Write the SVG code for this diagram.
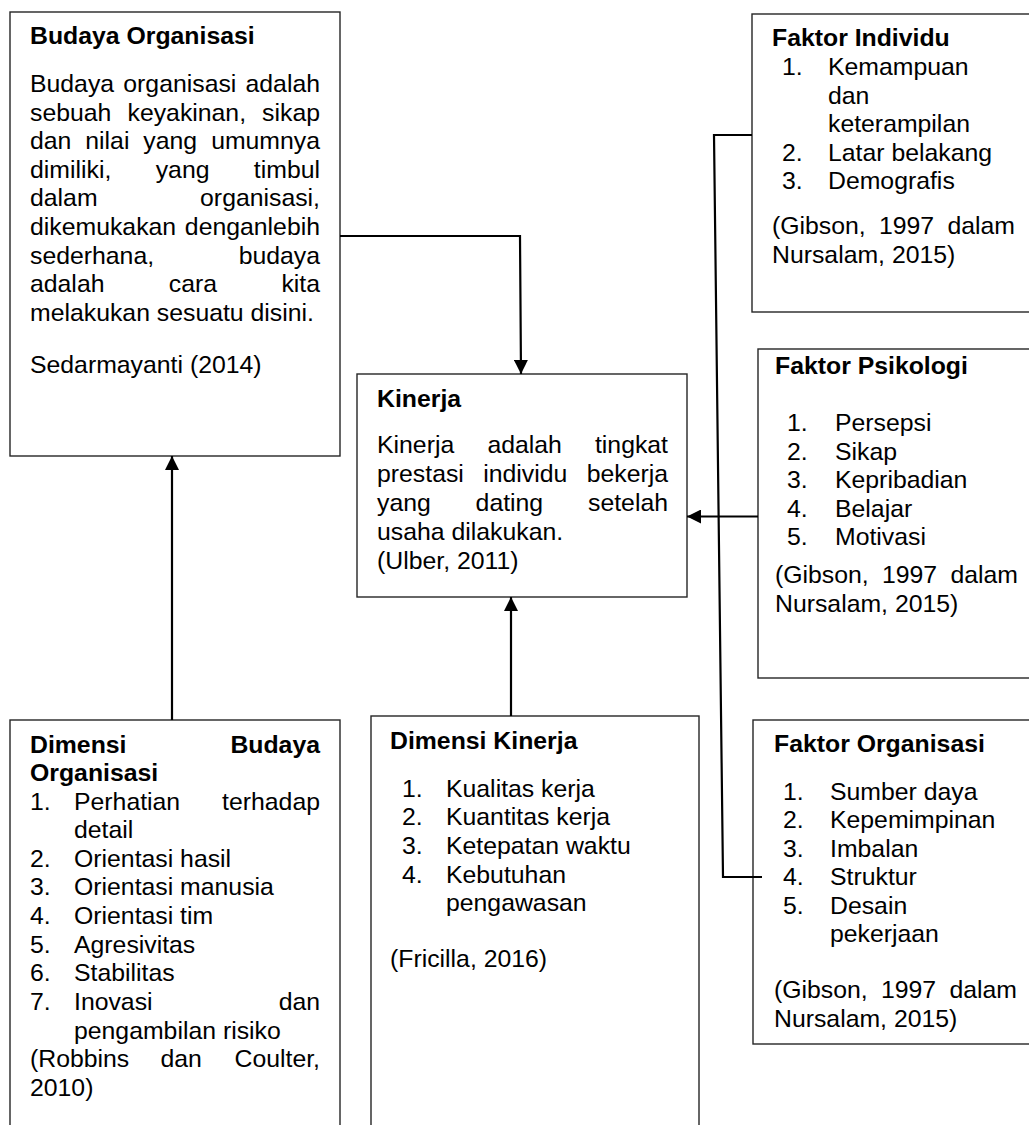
<svg xmlns="http://www.w3.org/2000/svg" width="1029" height="1125" viewBox="0 0 1029 1125">
<style>
.box{fill:#fff;stroke:#262626;stroke-width:1.4}
.t{font-family:"Liberation Sans",Arial,sans-serif;font-size:24.8px;fill:#000}
.b{font-family:"Liberation Sans",Arial,sans-serif;font-size:24.8px;font-weight:bold;fill:#000}
.e{text-anchor:end}
.conn{fill:none;stroke:#000;stroke-width:2.2}
</style>
<defs>
<marker id="arr" markerUnits="userSpaceOnUse" markerWidth="14" markerHeight="14" refX="14" refY="7" orient="auto">
<path d="M0,0 L14,7 L0,14 z" fill="#000"/>
</marker>
</defs>
<rect width="1029" height="1125" fill="#fff"/>

<g id="budaya-organisasi">
<rect class="box" x="10" y="12" width="330" height="444"/>
<text class="b" x="30" y="44">Budaya Organisasi</text>
<text class="t" x="30" y="92">Budaya</text><text class="t" x="123.3" y="92">organisasi</text><text class="t e" x="320" y="92">adalah</text>
<text class="t" x="30" y="120.6">sebuah</text><text class="t" x="127.5" y="120.6">keyakinan,</text><text class="t e" x="320" y="120.6">sikap</text>
<text class="t" x="30" y="149.2">dan</text><text class="t" x="85.3" y="149.2">nilai</text><text class="t" x="143.3" y="149.2">yang</text><text class="t e" x="320" y="149.2">umumnya</text>
<text class="t" x="30" y="177.8">dimiliki,</text><text class="t" x="155.7" y="177.8">yang</text><text class="t e" x="320" y="177.8">timbul</text>
<text class="t" x="30" y="206.4">dalam</text><text class="t e" x="320" y="206.4">organisasi,</text>
<text class="t" x="30" y="235">dikemukakan</text><text class="t e" x="320" y="235">denganlebih</text>
<text class="t" x="30" y="263.6">sederhana,</text><text class="t e" x="320" y="263.6">budaya</text>
<text class="t" x="30" y="292.2">adalah</text><text class="t" x="168.8" y="292.2">cara</text><text class="t e" x="320" y="292.2">kita</text>
<text class="t" x="30" y="320.8">melakukan sesuatu disini.</text>
<text class="t" x="30" y="373">Sedarmayanti (2014)</text>
</g>

<g id="kinerja">
<rect class="box" x="357" y="374" width="330" height="223"/>
<text class="b" x="377" y="407">Kinerja</text>
<text class="t" x="377" y="453">Kinerja</text><text class="t" x="487.4" y="453">adalah</text><text class="t e" x="668" y="453">tingkat</text>
<text class="t" x="377" y="482">prestasi</text><text class="t" x="483.2" y="482">individu</text><text class="t e" x="668" y="482">bekerja</text>
<text class="t" x="377" y="511">yang</text><text class="t" x="475.6" y="511">dating</text><text class="t e" x="668" y="511">setelah</text>
<text class="t" x="377" y="540">usaha dilakukan.</text>
<text class="t" x="377" y="569">(Ulber, 2011)</text>
</g>

<g id="faktor-individu">
<rect class="box" x="752" y="14" width="290" height="298"/>
<text class="b" x="772" y="46">Faktor Individu</text>
<text class="t" x="782" y="75">1.</text><text class="t" x="828" y="75">Kemampuan</text>
<text class="t" x="828" y="103.5">dan</text>
<text class="t" x="828" y="132">keterampilan</text>
<text class="t" x="782" y="160.5">2.</text><text class="t" x="828" y="160.5">Latar belakang</text>
<text class="t" x="782" y="189">3.</text><text class="t" x="828" y="189">Demografis</text>
<text class="t" x="772" y="234">(Gibson,</text><text class="t" x="879" y="234">1997</text><text class="t e" x="1015" y="234">dalam</text>
<text class="t" x="772" y="262.5">Nursalam, 2015)</text>
</g>

<g id="faktor-psikologi">
<rect class="box" x="758" y="349" width="290" height="329"/>
<text class="b" x="775" y="374">Faktor Psikologi</text>
<text class="t" x="787" y="431">1.</text><text class="t" x="835" y="431">Persepsi</text>
<text class="t" x="787" y="459.5">2.</text><text class="t" x="835" y="459.5">Sikap</text>
<text class="t" x="787" y="488">3.</text><text class="t" x="835" y="488">Kepribadian</text>
<text class="t" x="787" y="516.5">4.</text><text class="t" x="835" y="516.5">Belajar</text>
<text class="t" x="787" y="545">5.</text><text class="t" x="835" y="545">Motivasi</text>
<text class="t" x="775" y="583">(Gibson,</text><text class="t" x="882" y="583">1997</text><text class="t e" x="1018" y="583">dalam</text>
<text class="t" x="775" y="611.5">Nursalam, 2015)</text>
</g>

<g id="faktor-organisasi">
<rect class="box" x="753" y="720" width="290" height="324"/>
<text class="b" x="774" y="752">Faktor Organisasi</text>
<text class="t" x="783" y="799.5">1.</text><text class="t" x="830" y="799.5">Sumber daya</text>
<text class="t" x="783" y="828">2.</text><text class="t" x="830" y="828">Kepemimpinan</text>
<text class="t" x="783" y="856.5">3.</text><text class="t" x="830" y="856.5">Imbalan</text>
<text class="t" x="783" y="885">4.</text><text class="t" x="830" y="885">Struktur</text>
<text class="t" x="783" y="913.5">5.</text><text class="t" x="830" y="913.5">Desain</text>
<text class="t" x="830" y="942">pekerjaan</text>
<text class="t" x="774" y="998">(Gibson,</text><text class="t" x="881" y="998">1997</text><text class="t e" x="1017" y="998">dalam</text>
<text class="t" x="774" y="1026.5">Nursalam, 2015)</text>
</g>

<g id="dimensi-budaya-organisasi">
<rect class="box" x="10" y="720" width="330" height="420"/>
<text class="b" x="30" y="752.5">Dimensi</text><text class="b e" x="320" y="752.5">Budaya</text>
<text class="b" x="30" y="781">Organisasi</text>
<text class="t" x="30" y="809.5">1.</text><text class="t" x="74" y="809.5">Perhatian</text><text class="t e" x="320" y="809.5">terhadap</text>
<text class="t" x="74" y="838">detail</text>
<text class="t" x="30" y="866.7">2.</text><text class="t" x="74" y="866.7">Orientasi hasil</text>
<text class="t" x="30" y="895.3">3.</text><text class="t" x="74" y="895.3">Orientasi manusia</text>
<text class="t" x="30" y="924">4.</text><text class="t" x="74" y="924">Orientasi tim</text>
<text class="t" x="30" y="952.6">5.</text><text class="t" x="74" y="952.6">Agresivitas</text>
<text class="t" x="30" y="981.3">6.</text><text class="t" x="74" y="981.3">Stabilitas</text>
<text class="t" x="30" y="1010">7.</text><text class="t" x="74" y="1010">Inovasi</text><text class="t e" x="320" y="1010">dan</text>
<text class="t" x="74" y="1038.6">pengambilan risiko</text>
<text class="t" x="30" y="1067.3">(Robbins</text><text class="t" x="160.5" y="1067.3">dan</text><text class="t e" x="320" y="1067.3">Coulter,</text>
<text class="t" x="30" y="1096">2010)</text>
</g>

<g id="dimensi-kinerja">
<rect class="box" x="371" y="716" width="328" height="424"/>
<text class="b" x="390" y="749">Dimensi Kinerja</text>
<text class="t" x="402" y="796.5">1.</text><text class="t" x="446" y="796.5">Kualitas kerja</text>
<text class="t" x="402" y="825.3">2.</text><text class="t" x="446" y="825.3">Kuantitas kerja</text>
<text class="t" x="402" y="854">3.</text><text class="t" x="446" y="854">Ketepatan waktu</text>
<text class="t" x="402" y="882.7">4.</text><text class="t" x="446" y="882.7">Kebutuhan</text>
<text class="t" x="446" y="911.4">pengawasan</text>
<text class="t" x="390" y="966.5">(Fricilla, 2016)</text>
</g>

<g id="connectors">
<polyline class="conn" points="340,236 520,236 521,374" marker-end="url(#arr)"/>
<line class="conn" x1="758" y1="516.5" x2="687" y2="516.5" marker-end="url(#arr)"/>
<polyline class="conn" points="752,135 714,135 723,877 762,877"/>
<line class="conn" x1="172" y1="720" x2="172" y2="456" marker-end="url(#arr)"/>
<line class="conn" x1="511" y1="716" x2="511" y2="597" marker-end="url(#arr)"/>
</g>
</svg>
